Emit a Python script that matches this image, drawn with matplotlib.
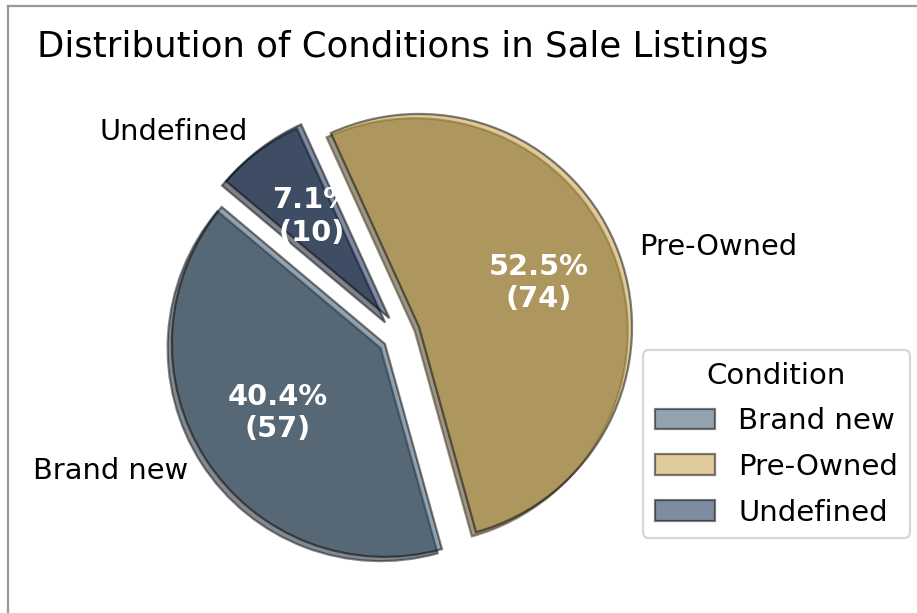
import matplotlib
matplotlib.use("Agg")
import matplotlib.pyplot as plt
from matplotlib.lines import Line2D

categories = ["Brand new", "Pre-Owned", "Undefined"]
counts = [57, 74, 10]
colors = ["#294761", "#c19939", "#001941"]
explode = [0.09, 0.09, 0.09]
title = "Distribution of Conditions in Sale Listings"
legend_title = "Condition"

W, H, DPI = 917, 613, 160
fig = plt.figure(figsize=(W / DPI, H / DPI), dpi=DPI)

R = 213.0
cx, cy = 401.0, 333.5
ax = fig.add_axes([0, 0, 1, 1])
total = sum(counts)


def fmt(p):
    n = int(round(p * total / 100.0))
    return f"{p:.1f}%\n({n})"


shadow_off = -0.02 * 72 / DPI
wedges, texts, autotexts = ax.pie(
    counts, labels=categories, colors=colors, explode=explode,
    startangle=140, shadow=dict(ox=shadow_off, oy=shadow_off),
    autopct=fmt, pctdistance=0.6, labeldistance=1.1,
    wedgeprops=dict(edgecolor="black", linewidth=1.0, alpha=0.5),
    textprops=dict(fontsize=13),
)
for t in autotexts:
    t.set_color("white")
    t.set_fontweight("bold")
    t.set_fontsize(13)

ax.set_xlim((0 - cx) / R, (W - cx) / R)
ax.set_ylim(-(H - cy) / R, cy / R)
ax.set_aspect("auto")
ax.axis("off")

fig.text(37 / W, 1 - 57 / H, title, fontsize=16, ha="left", va="baseline")

leg = ax.legend(wedges, categories, title=legend_title, fontsize=13.2,
                title_fontsize=13.2, loc="upper left", labelspacing=0.6,
                handlelength=2.05,
                bbox_to_anchor=(643 / W, 1 - 350 / H),
                bbox_transform=fig.transFigure, borderaxespad=0)

# screenshot frame lines (left and top)
fig.add_artist(Line2D([8 / W, 8 / W], [0, 1 - 6 / H], transform=fig.transFigure,
                      color="#999999", linewidth=1.0))
fig.add_artist(Line2D([8 / W, 1], [1 - 6 / H, 1 - 6 / H], transform=fig.transFigure,
                      color="#999999", linewidth=1.0))

fig.savefig("out.png", dpi=DPI)
